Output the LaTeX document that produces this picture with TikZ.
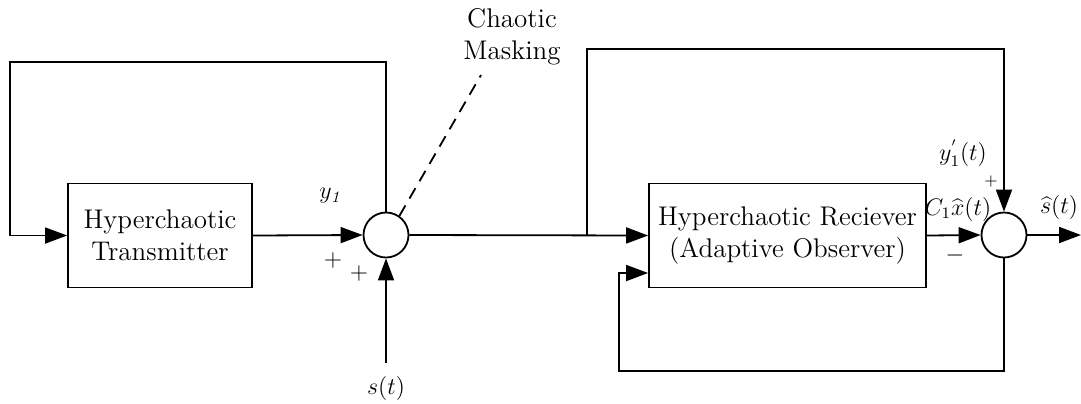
\documentclass[tikz,border=0pt]{standalone}
\usetikzlibrary{arrows.meta}
\tikzset{
  block/.style={draw, line width=0.9pt, align=center, minimum height=52pt, inner sep=2pt},
  summer/.style={draw, circle, line width=0.9pt, minimum size=22.5pt, inner sep=0pt},
  arr/.style={-{Triangle[length=11pt, width=8pt]}, line width=0.9pt},
  wire/.style={line width=0.9pt},
  lbl/.style={inner sep=0.5pt, font=\fontsize{12}{14}\selectfont}
}
\begin{document}
\begin{tikzpicture}[x=0.5pt, y=-0.5pt, font=\fontsize{13.5}{16}\selectfont]
        \useasboundingbox (0,0) rectangle (1081,403);
        % blocks and summing points
        \node[block, minimum width=92pt]    (tx)   at (160,235.5) {Hyperchaotic\\Transmitter};
        \node[summer]                       (sum1) at (386,235)   {};
        \node[block, minimum width=138.5pt] (rx)   at (787.5,235.5) {Hyperchaotic Reciever\\(Adaptive Observer)};
        \node[summer]                       (sum2) at (1004,235)  {};
        % coordinates for the wires
        \coordinate (fbtl)     at (10,62);
        \coordinate (sin)      at (386,363);
        \coordinate (branch)   at (587,235);
        \coordinate (fbtr)     at (1004,49);
        \coordinate (out)      at (1081,235);
        \coordinate (fbbl)     at (619,371);
        \coordinate (fbin)     at (619,273);
        \coordinate (masktip)  at (481,75);
        % transmitter loop
        \draw[arr]  (tx.east)     -- (sum1.west);
        \draw[arr]  (sum1.north)  |- (fbtl) |- (tx.west);
        \draw[arr]  (sin)         -- (sum1.south);
        % channel and receiver
        \draw[arr]  (sum1.east)   -- (rx.west);
        \draw[arr]  (branch)      |- (fbtr) -- (sum2.north);
        \draw[arr]  (rx.east)     -- (sum2.west);
        \draw[arr]  (sum2.east)   -- (out);
        \draw[arr]  (sum2.south)  |- (fbbl) -- (fbin) -- (fbin -| rx.west);
        % chaotic masking pointer
        \draw[wire, dash pattern=on 6pt off 4pt] (sum1.55) -- (masktip);
        \node[align=center] (mask) at (512,37) {Chaotic\\Masking};
        % labels
        \node[lbl] (ylab)   at (331,196)  {$y_{\mathit{1}}$};
        \node[lbl] (plus1)  at (333,260)  {$+$};
        \node[lbl] (plus2)  at (359,273)  {$+$};
        \node[lbl] (slab)   at (386,388)  {$s(t)$};
        \node[lbl] (yplab)  at (963,153)  {$y_{1}^{'}(t)$};
        \node[lbl, font=\footnotesize] (plus3) at (991,181) {$+$};
        \node[lbl] (cxlab)  at (958,209)  {$C_{1}\widehat{x}(t)$};
        \node[lbl] (minus)  at (955,255)  {$-$};
        \node[lbl] (shlab)  at (1059,207) {$\widehat{s}(t)$};
\end{tikzpicture}
\end{document}
